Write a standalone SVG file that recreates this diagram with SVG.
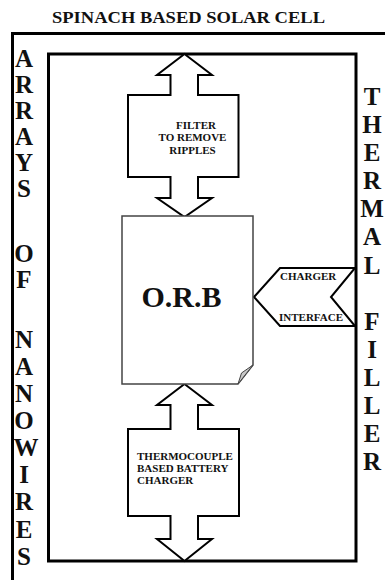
<svg xmlns="http://www.w3.org/2000/svg" width="385" height="580" viewBox="0 0 385 580">
<style>
.t{font-family:"Liberation Serif","Times New Roman",serif;font-weight:bold;fill:#111}
.big{font-size:25px;text-anchor:middle}
.sm{font-size:11px}
.frame{fill:none;stroke:#000;stroke-width:3}
.arrow{fill:#fff;stroke:#000;stroke-width:2;stroke-linejoin:miter}
</style>
<rect width="385" height="580" fill="#fff"/>
<text class="t" x="52" y="22.5" font-size="17" textLength="273" lengthAdjust="spacingAndGlyphs">SPINACH BASED SOLAR CELL</text>
<g id="outer-frame"><path class="frame" d="M12.5,585 V33.5 H390"/></g>
<g id="inner-frame"><rect class="frame" x="48.5" y="54" width="307.5" height="507"/></g>
<g id="left-label">
<text class="t big" x="24"><tspan x="24" y="67">A</tspan><tspan x="24" y="93">R</tspan><tspan x="24" y="119">R</tspan><tspan x="24" y="145">A</tspan><tspan x="24" y="171">Y</tspan><tspan x="24" y="197">S</tspan><tspan x="24" y="262">O</tspan><tspan x="24" y="288">F</tspan><tspan x="24" y="348">N</tspan><tspan x="24" y="375">A</tspan><tspan x="24" y="402">N</tspan><tspan x="24" y="429">O</tspan><tspan x="26" y="456">W</tspan><tspan x="24" y="483">I</tspan><tspan x="24" y="510">R</tspan><tspan x="24" y="537.5">E</tspan><tspan x="24" y="565">S</tspan></text>
</g>
<g id="right-label">
<text class="t big" x="372"><tspan x="372" y="105">T</tspan><tspan x="372" y="133">H</tspan><tspan x="372" y="161">E</tspan><tspan x="372" y="189">R</tspan><tspan x="372" y="217">M</tspan><tspan x="372" y="245">A</tspan><tspan x="372" y="274">L</tspan><tspan x="372" y="330">F</tspan><tspan x="372" y="358">I</tspan><tspan x="372" y="386">L</tspan><tspan x="372" y="414">L</tspan><tspan x="372" y="442">E</tspan><tspan x="372" y="470">R</tspan></text>
</g>
<g id="connectors">
<path id="filter" class="arrow" d="M184.5,54 L212,75 L198,75 L198,95 L238.5,95 L238.5,177 L198,177 L198,198 L212,198 L184.5,217 L157,198 L170.5,198 L170.5,177 L128,177 L128,95 L170.5,95 L170.5,75 L157,75 Z"/>
<path id="thermocouple" class="arrow" d="M184.5,384 L212,405 L198,405 L198,429 L239,429 L239,516 L198,516 L198,539 L212,539 L184.5,561 L157,539 L170.5,539 L170.5,516 L128,516 L128,429 L170.5,429 L170.5,405 L157,405 Z"/>
<path id="charger" class="arrow" d="M254,297 L280,268 L355,268 L331,297 L355,326 L280,326 Z"/>
</g>
<g id="filter-label">
<text class="t sm" text-anchor="middle"><tspan x="196" y="128.5">FILTER</tspan><tspan x="192.5" y="141">TO REMOVE</tspan><tspan x="192.5" y="153.5">RIPPLES</tspan></text>
</g>
<g id="thermo-label">
<text class="t sm"><tspan x="137" y="459.5">THERMOCOUPLE</tspan><tspan x="137" y="471.7">BASED BATTERY</tspan><tspan x="137" y="483.5">CHARGER</tspan></text>
</g>
<g id="charger-label">
<text class="t sm"><tspan x="280" y="280">CHARGER</tspan><tspan x="279" y="321">INTERFACE</tspan></text>
</g>
<g id="orb">
<path d="M122,216 H253 V365 L238,384 H122 Z" fill="#fff" stroke="#444" stroke-width="1.5"/>
<path d="M253,365 L241.5,373 L238,384 Z" fill="#c8c8c8" stroke="#444" stroke-width="1"/>
<text class="t" x="181.5" y="307" font-size="30" text-anchor="middle">O.R.B</text>
</g>
</svg>
